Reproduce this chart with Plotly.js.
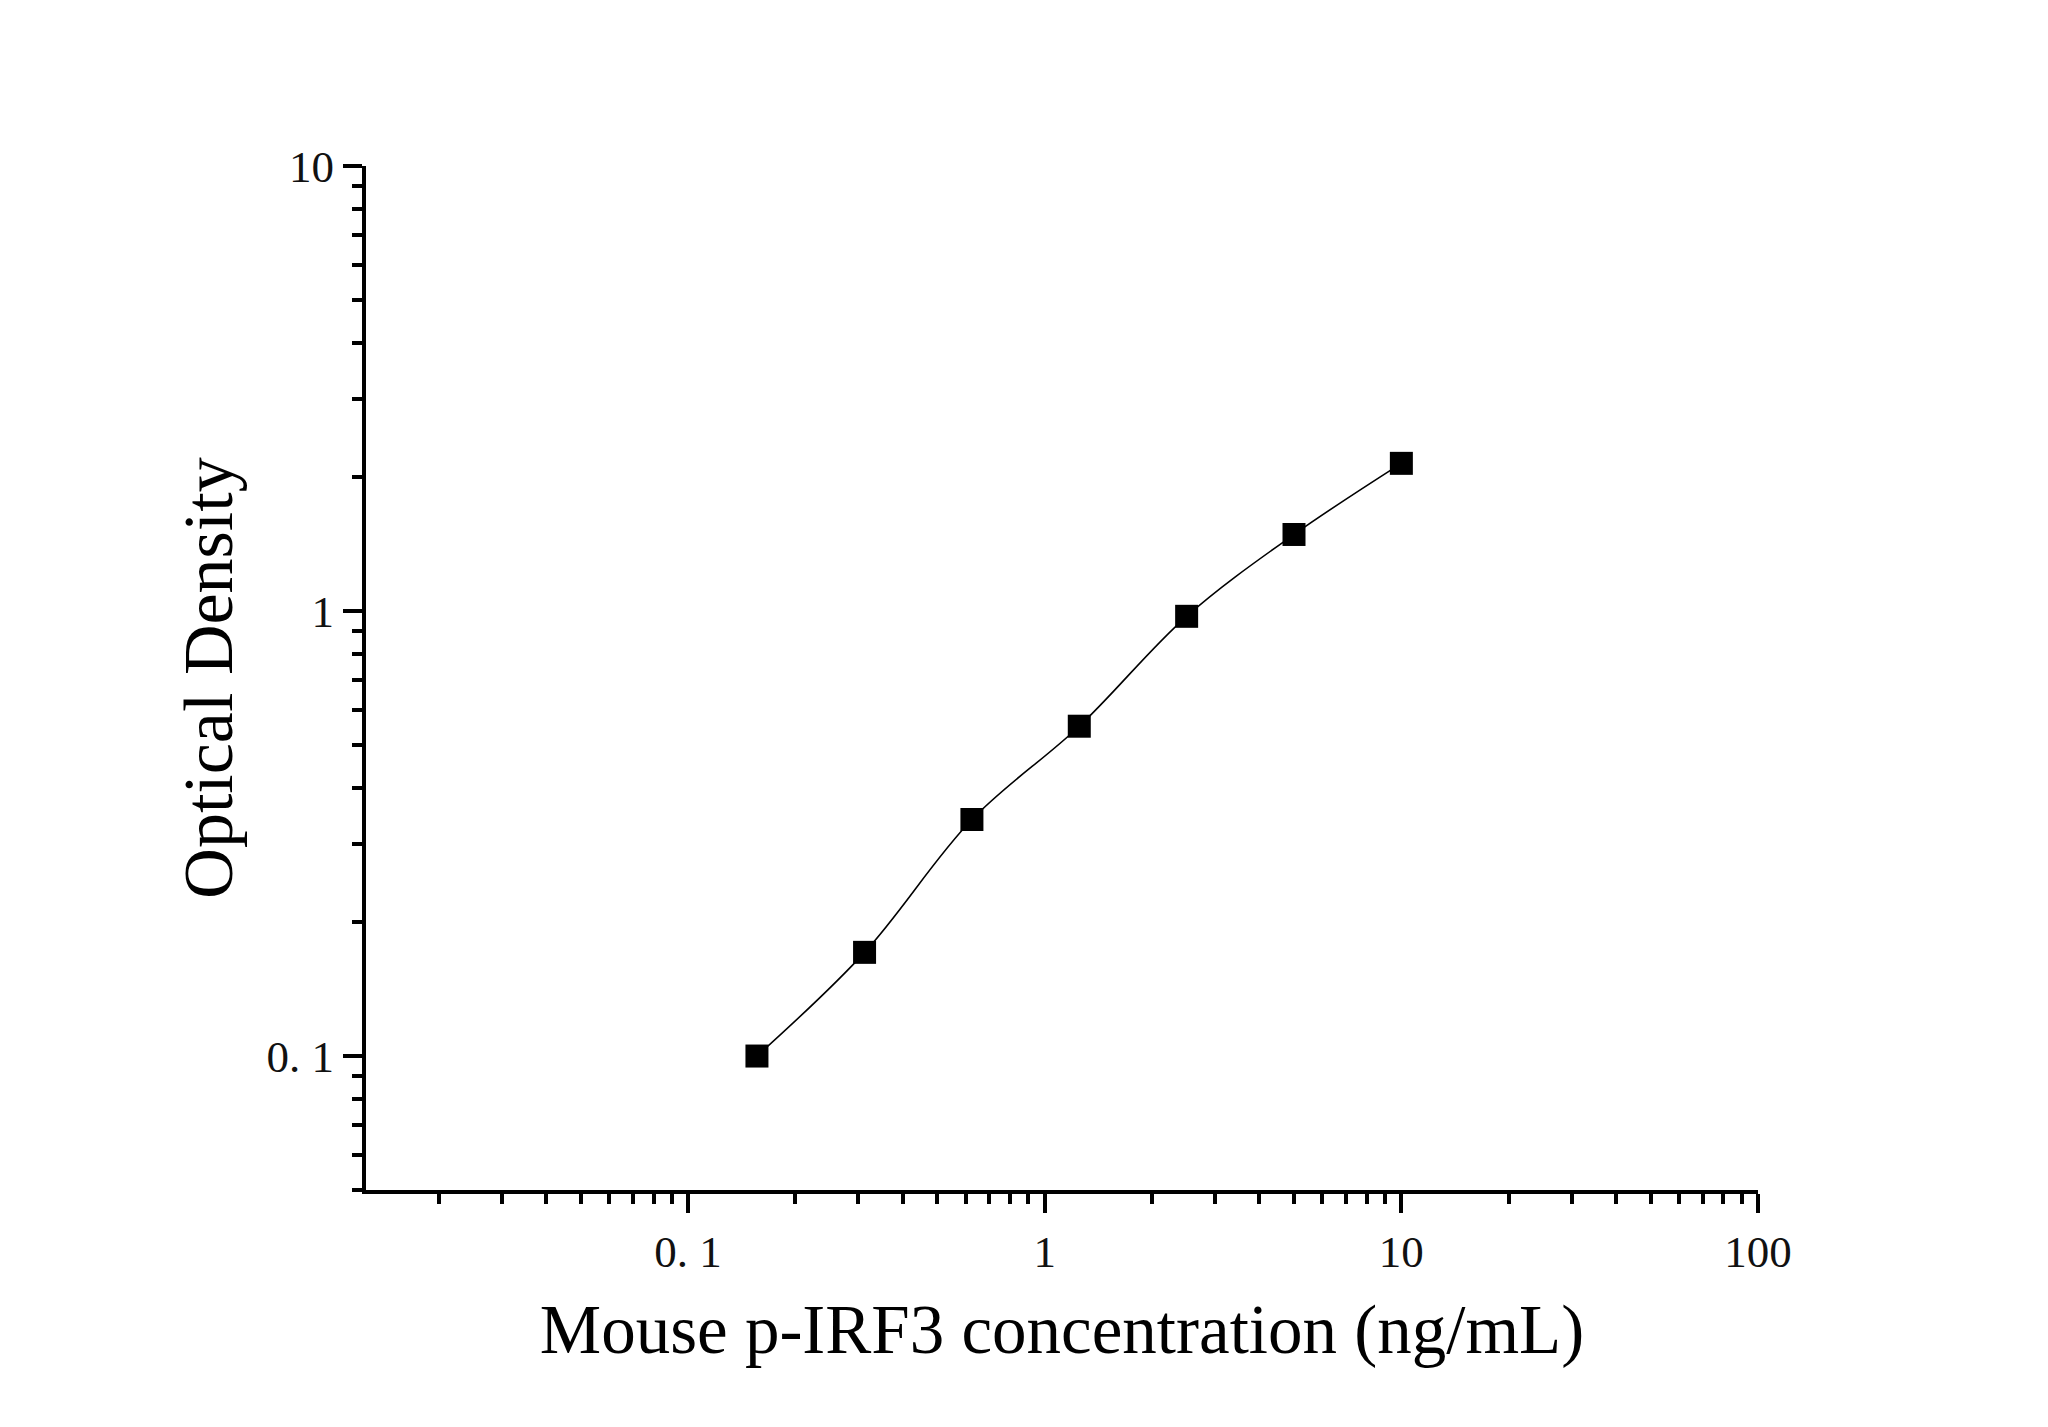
<!DOCTYPE html>
<html>
<head>
<meta charset="utf-8">
<script src="https://cdn.plot.ly/plotly-3.0.1.min.js"></script>
<style>
  html, body { margin: 0; padding: 0; background: #ffffff; }
  #chart { width: 2048px; height: 1427px; }
</style>
</head>
<body>
<div id="chart"></div>
<script>
// Standard curve: concentration (ng/mL) vs optical density
const concentration = [0.156, 0.3125, 0.625, 1.25, 2.5, 5, 10];
const opticalDensity = [0.100, 0.171, 0.340, 0.551, 0.973, 1.486, 2.147];

const xTickVals = [0.1, 1, 10, 100];
const xTickText = ['0. 1', '1', '10', '100'];
const yTickVals = [0.1, 1, 10];
const yTickText = ['0. 1', '1', '10'];

const xTitle = 'Mouse p-IRF3 concentration (ng/mL)';
const yTitle = 'Optical Density';

const serif = 'Liberation Serif, Times New Roman, serif';

const traces = [
  {
    x: concentration,
    y: opticalDensity,
    type: 'scatter',
    mode: 'lines',
    line: { color: '#000000', width: 1.6, shape: 'spline', smoothing: 1 },
    hoverinfo: 'skip',
    showlegend: false
  },
  {
    x: concentration,
    y: opticalDensity,
    type: 'scatter',
    mode: 'markers',
    marker: { symbol: 'square', size: 23, color: '#000000', line: { width: 0 } },
    showlegend: false
  }
];

const axisCommon = {
  type: 'log',
  showgrid: false,
  zeroline: false,
  showline: true,
  linecolor: '#000000',
  linewidth: 4,
  ticks: 'outside',
  ticklen: 19,
  tickwidth: 4,
  tickcolor: '#000000',
  tickmode: 'array',
  tickfont: { family: serif, size: 45, color: '#111111' },
  minor: { ticks: 'outside', ticklen: 10, tickwidth: 4, tickcolor: '#000000', dtick: 'D1', showgrid: false }
};

const layout = {
  width: 2048,
  height: 1427,
  paper_bgcolor: '#ffffff',
  plot_bgcolor: '#ffffff',
  margin: { l: 366, r: 290, t: 166, b: 237 },
  showlegend: false,
  xaxis: Object.assign({}, axisCommon, {
    range: [Math.log10(0.0125), 2],
    tickvals: xTickVals,
    ticktext: xTickText,
    title: { text: xTitle, font: { family: serif, size: 69, color: '#000000' }, standoff: 30 }
  }),
  yaxis: Object.assign({}, axisCommon, {
    range: [Math.log10(0.05), 1],
    tickvals: yTickVals,
    ticktext: yTickText,
    title: { text: yTitle, font: { family: serif, size: 70, color: '#000000' }, standoff: 12 }
  })
};

Plotly.newPlot('chart', traces, layout, { displayModeBar: false, staticPlot: true });
</script>
</body>
</html>
